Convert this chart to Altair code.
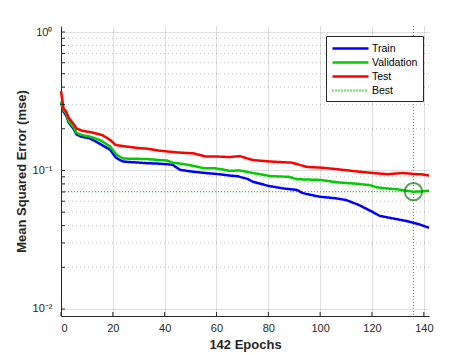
import altair as alt
import pandas as pd

# ---- data ----
train_ep = [0, 1, 2, 3, 5, 6, 8, 11, 15, 19, 21, 22, 24, 30, 33, 38, 43, 46, 51, 56, 61, 65, 68, 72, 74,
            80, 86, 91, 93, 95, 100, 106, 110, 115, 120, 123, 128, 133, 138, 142]
train_mse = [0.31, 0.265, 0.25, 0.222, 0.198, 0.182, 0.175, 0.171, 0.156, 0.141, 0.125, 0.121, 0.116, 0.114,
             0.113, 0.112, 0.110, 0.101, 0.098, 0.0958, 0.094, 0.092, 0.091, 0.087, 0.083, 0.0774, 0.0741,
             0.0724, 0.069, 0.0675, 0.0646, 0.063, 0.0612, 0.0563, 0.0505, 0.047, 0.0451, 0.0433, 0.041, 0.0386]

val_ep = [0, 1, 2, 3, 5, 6, 8, 11, 15, 19, 21, 22, 24, 33, 38, 41, 43, 46, 49, 55, 59, 62, 65, 69, 74,
          81, 88, 91, 100, 107, 113, 119, 122, 126, 130, 133, 136, 139, 142]
val_mse = [0.315, 0.272, 0.257, 0.227, 0.203, 0.187, 0.180, 0.176, 0.166, 0.149, 0.133, 0.128, 0.122, 0.121,
           0.119, 0.118, 0.114, 0.112, 0.110, 0.104, 0.104, 0.102, 0.0995, 0.100, 0.096, 0.091, 0.090,
           0.0865, 0.0855, 0.082, 0.0806, 0.0785, 0.0755, 0.0741, 0.073, 0.0715, 0.0703, 0.0706, 0.0715]

test_ep = [0, 1, 2, 3, 5, 6, 8, 12, 16, 19, 21, 25, 30, 33, 38, 45, 51, 56, 61, 65, 69, 74, 81, 89, 95,
           100, 107, 113, 120, 126, 132, 137, 139, 142]
test_mse = [0.375, 0.28, 0.266, 0.24, 0.215, 0.201, 0.194, 0.188, 0.180, 0.166, 0.153, 0.149, 0.145, 0.144,
            0.139, 0.135, 0.133, 0.126, 0.126, 0.125, 0.127, 0.119, 0.116, 0.114, 0.106, 0.105, 0.102,
            0.099, 0.096, 0.094, 0.096, 0.094, 0.094, 0.092]

best_epoch = 136
best_mse = 0.0703

series_names = ["Train", "Validation", "Test", "Best"]
series_colors = ["#0000ff", "#00cc00", "#ff0000", "#00cc00"]
series_dash = [[1, 0], [1, 0], [1, 0], [1, 2]]

x_ticks = [0, 20, 40, 60, 80, 100, 120, 140]
y_major = [0.01, 0.1, 1]
y_minor = [0.02, 0.03, 0.04, 0.05, 0.06, 0.07, 0.08, 0.09,
           0.2, 0.3, 0.4, 0.5, 0.6, 0.7, 0.8, 0.9]

# ---- tables ----
rows = []
for name, eps, vals in [("Train", train_ep, train_mse),
                        ("Validation", val_ep, val_mse),
                        ("Test", test_ep, test_mse)]:
    for e, v in zip(eps, vals):
        rows.append({"series": name, "epoch": e, "mse": v})
lines_df = pd.DataFrame(rows)
best_df = pd.DataFrame([{"series": "Best", "epoch": best_epoch, "mse": best_mse}])
minor_df = pd.DataFrame({"mse": y_minor})
ytick_df = pd.DataFrame({"mse": y_major + y_minor})
xtick_df = pd.DataFrame({"epoch": x_ticks})

FONT = "Liberation Sans"
AX = "#262626"

x_scale = alt.Scale(domain=[0, 142], nice=False, zero=False)
y_scale = alt.Scale(type="log", domain=[0.0089, 1.105], nice=False)
color_scale = alt.Scale(domain=series_names, range=series_colors)
dash_scale = alt.Scale(domain=series_names, range=series_dash)

legend = alt.Legend(
    title=None, orient="none", legendX=265, legendY=10, direction="vertical",
    symbolType="M-1,0H5", symbolSize=144, symbolStrokeWidth=2.5,
    labelFont=FONT, labelFontSize=10.5, labelColor="#000000", labelOffset=26,
    padding=5, rowPadding=1, strokeColor=AX, fillColor="white",
)

x_axis = alt.Axis(values=x_ticks, grid=True, gridColor=AX, gridOpacity=0.15, ticks=False,
                  domainColor=AX, labelColor=AX, labelFont=FONT, labelFontSize=11, labelPadding=6,
                  title="142 Epochs", titleFont=FONT, titleFontSize=13, titleFontWeight="bold",
                  titleColor=AX, titlePadding=5)
y_axis = alt.Axis(values=y_major, grid=True, gridColor=AX, gridOpacity=0.15, ticks=False,
                  domainColor=AX, labelColor=AX, labelFont=FONT, labelFontSize=11, labelPadding=9,
                  labelExpr="datum.value > 0.5 ? '10⁰' : (datum.value > 0.05 ? '10⁻¹' : '10⁻²')",
                  title="Mean Squared Error  (mse)", titleFont=FONT, titleFontSize=13,
                  titleFontWeight="bold", titleColor=AX, titlePadding=4)

base_x = alt.X("epoch:Q", scale=x_scale, axis=x_axis)
base_y = alt.Y("mse:Q", scale=y_scale, axis=y_axis)

minor_grid = alt.Chart(minor_df).mark_rule(color=AX, opacity=0.25, strokeDash=[1, 3], strokeWidth=1).encode(
    y=alt.Y("mse:Q", scale=y_scale)
)

lines = alt.Chart(lines_df).mark_line(strokeWidth=2.5).encode(
    x=base_x, y=base_y,
    color=alt.Color("series:N", scale=color_scale, legend=legend),
    strokeDash=alt.StrokeDash("series:N", scale=dash_scale, legend=legend),
    detail="series:N",
    order=alt.Order("epoch:Q"),
)

best_v = alt.Chart(best_df).mark_rule(strokeWidth=1).encode(
    x=alt.X("epoch:Q", scale=x_scale),
    color=alt.Color("series:N", scale=color_scale, legend=legend),
    strokeDash=alt.StrokeDash("series:N", scale=dash_scale, legend=legend),
)
best_h = alt.Chart(best_df).mark_rule(strokeWidth=1).encode(
    y=alt.Y("mse:Q", scale=y_scale),
    color=alt.Color("series:N", scale=color_scale, legend=legend),
    strokeDash=alt.StrokeDash("series:N", scale=dash_scale, legend=legend),
)
best_pt = alt.Chart(best_df).mark_point(shape="circle", filled=False, size=300, strokeWidth=2,
                                        color="#127a12").encode(
    x=alt.X("epoch:Q", scale=x_scale), y=alt.Y("mse:Q", scale=y_scale)
)

xticks = alt.Chart(xtick_df).mark_rule(color=AX, strokeWidth=1).encode(
    x=alt.X("epoch:Q", scale=x_scale), y=alt.value(290), y2=alt.value(286)
)
yticks = alt.Chart(ytick_df).mark_rule(color=AX, strokeWidth=1).encode(
    y=alt.Y("mse:Q", scale=y_scale), x=alt.value(0), x2=alt.value(4)
)

chart = alt.layer(minor_grid, best_h, best_v, lines, best_pt, xticks, yticks).properties(
    width=368, height=290,
    autosize=alt.AutoSizeParams(type="none"),
    padding={"left": 61, "top": 26, "right": 45, "bottom": 39},
    background="white",
).configure_view(stroke=None)

chart.save("out.html", embed_options={"renderer": "svg", "actions": False})
